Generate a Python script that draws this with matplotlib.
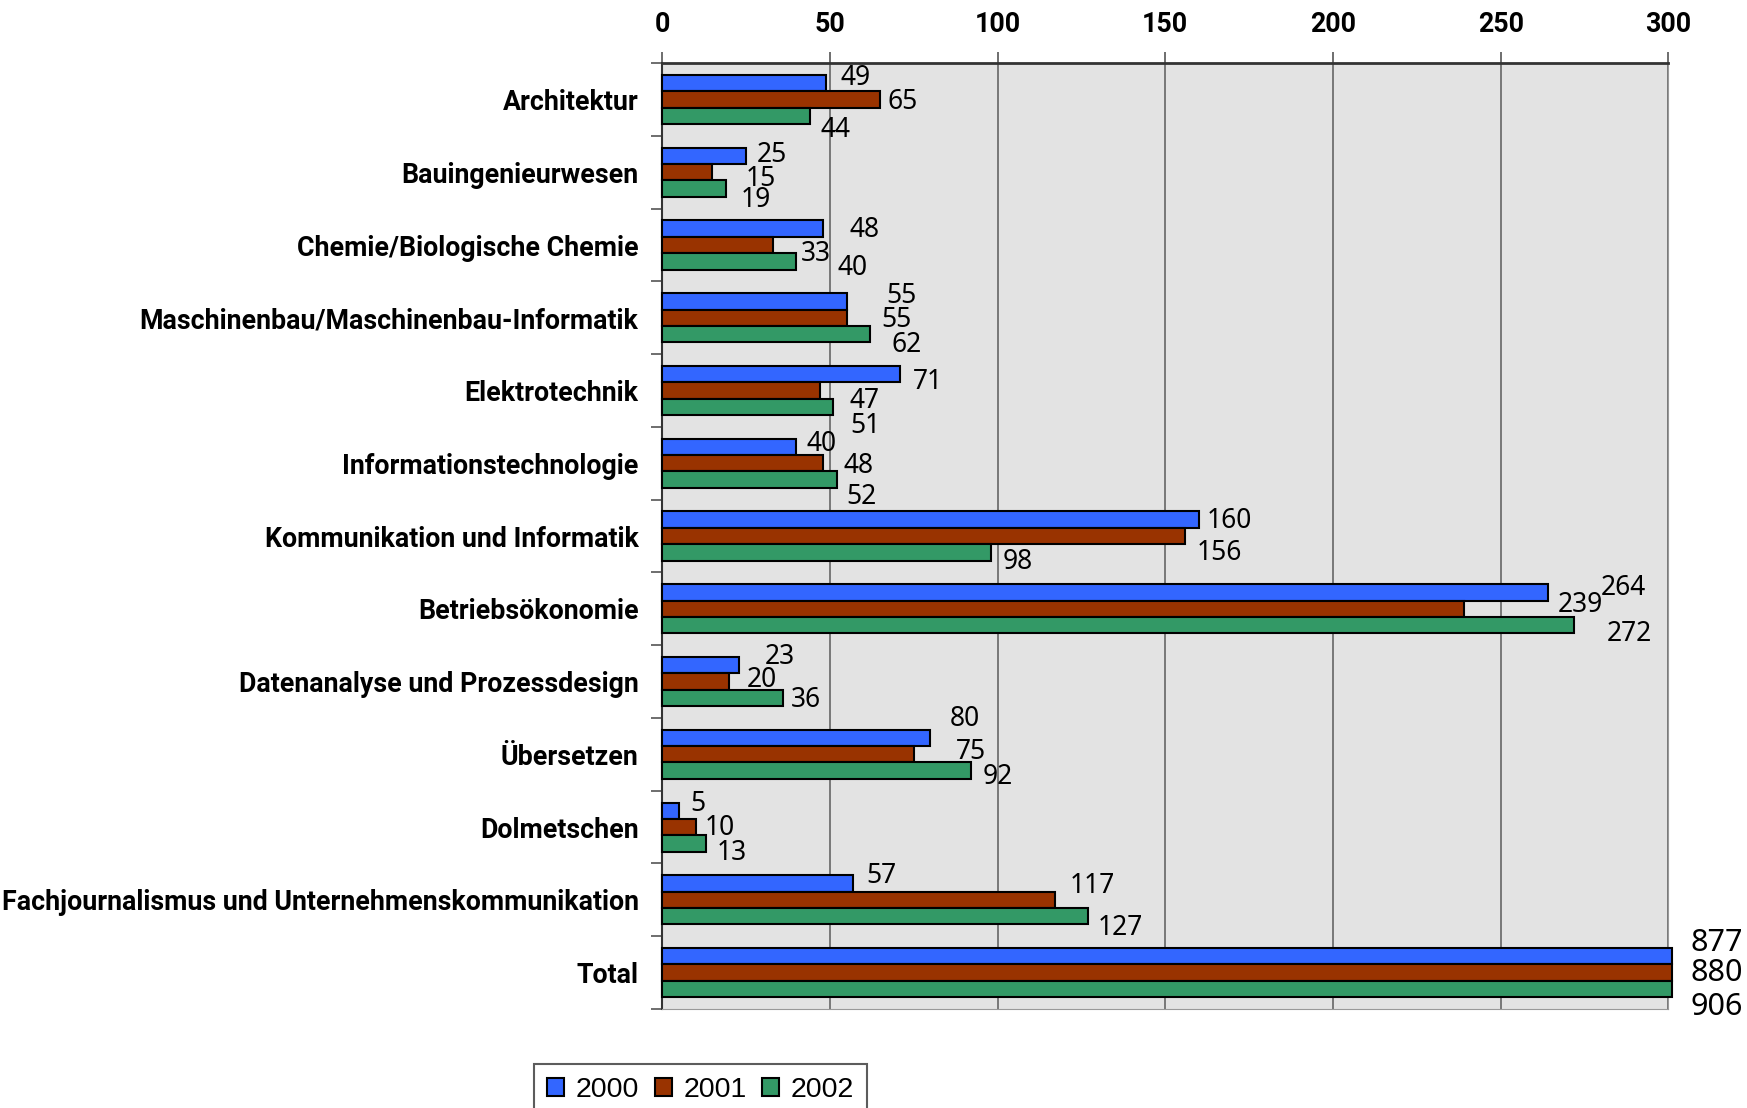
import matplotlib
matplotlib.use("Agg")
import matplotlib.pyplot as plt
import numpy as np
from matplotlib.ticker import FixedLocator
from matplotlib import font_manager

categories = ["Architektur", "Bauingenieurwesen", "Chemie/Biologische Chemie",
              "Maschinenbau/Maschinenbau-Informatik", "Elektrotechnik",
              "Informationstechnologie", "Kommunikation und Informatik",
              "Betriebsökonomie", "Datenanalyse und Prozessdesign", "Übersetzen",
              "Dolmetschen", "Fachjournalismus und Unternehmenskommunikation", "Total"]
years = ["2000", "2001", "2002"]
v2000 = [49, 25, 48, 55, 71, 40, 160, 264, 23, 80, 5, 57, 877]
v2001 = [65, 15, 33, 55, 47, 48, 156, 239, 20, 75, 10, 117, 880]
v2002 = [44, 19, 40, 62, 51, 52, 98, 272, 36, 92, 13, 127, 906]
xticks = [0, 50, 100, 150, 200, 250, 300]

# label placement nudges (in reference pixels) copied from the original layout
lab_dx = [[13, 7, 10], [10, 30, 13], [24, 25, 37], [36, 31, 19], [11, 27, 15],
          [9, 18, 9], [7, 10, 11], [48, 84, 29], [23, 16, 7], [17, 38, 11],
          [10, 8, 10], [12, 14, 9], [20, 20, 20]]
lab_dy = [[-5, 2, 13], [-1, 6, 10], [1, 8, 6], [-5, 2, 10], [7, 9, 17],
          [-3, 2, 16], [1, 15, 9], [-4, -3, 8], [-7, -1, 2], [-17, -2, 6],
          [-6, 1, 9], [-7, -12, 11], [-12, 0, 16]]

colors = ["#3366FF", "#993300", "#339966"]

avail = {f.name for f in font_manager.fontManager.ttflist}
cat = "Roboto" if "Roboto" in avail else "DejaVu Sans"
CAT_FONT = [cat, "DejaVu Sans"]
VAL_FONT = ["Noto Sans", "DejaVu Sans"]

fig = plt.figure(figsize=(17.47, 11.08), dpi=100)
ax = fig.add_axes([0.379, 0.0894, 0.576, 0.8536])
ax.set_facecolor("#E3E3E3")

n = len(categories)
y = np.arange(n)
h = 0.225
series = [v2000, v2001, v2002]
XMAX = 300
PX = 0.802  # reference pixel -> points
for k, vals in enumerate(series):
    yy = y + (k - 1) * h
    ax.barh(yy, [min(v, XMAX + 1) for v in vals], height=h, color=colors[k],
            edgecolor="black", linewidth=1.5, zorder=3, clip_on=False, label=years[k])
    for i, v in enumerate(vals):
        xa = min(v, XMAX)
        fs = 22 if v > XMAX else 19
        ax.annotate(str(v), (xa, yy[i]),
                    xytext=(lab_dx[i][k] * PX, -lab_dy[i][k] * PX),
                    textcoords="offset points", va="center", ha="left",
                    fontsize=fs, family=VAL_FONT, annotation_clip=False, zorder=5)

ax.set_xlim(0, XMAX)
ax.set_ylim(n - 0.5, -0.5)
ax.xaxis.tick_top()
ax.set_xticks(xticks)
ax.grid(axis="x", color="#666666", linewidth=1.2, zorder=1)
ax.set_yticks(y)

# fit category label size so the longest label matches the original width (~638 px)
probe = fig.text(0, 0, categories[11], fontsize=19, fontweight="bold", family=CAT_FONT)
fig.canvas.draw()
w = probe.get_window_extent().width
probe.remove()
cat_fs = min(19.5, 19 * 636.0 / w)

ax.set_xticklabels([str(t) for t in xticks], fontsize=cat_fs, fontweight="bold", family=CAT_FONT)
ax.tick_params(axis="x", which="major", length=8, width=1.2, color="#555555", pad=10)
ax.set_yticklabels(categories, fontsize=cat_fs, fontweight="bold", family=CAT_FONT)
ax.tick_params(axis="y", which="major", length=0, pad=17)
ax.yaxis.set_minor_locator(FixedLocator(np.arange(-0.5, n, 1.0)))
ax.tick_params(axis="y", which="minor", length=8, width=1.2, color="#555555")

ax.spines["top"].set_color("#333333")
ax.spines["top"].set_linewidth(2)
ax.spines["left"].set_color("#333333")
ax.spines["left"].set_linewidth(1.5)
ax.spines["right"].set_color("#999999")
ax.spines["bottom"].set_color("#999999")

leg = fig.legend(loc="upper center", bbox_to_anchor=(0.401, 0.0397), ncol=3,
                 frameon=True, fancybox=False, edgecolor="#333333",
                 prop={"size": 20.5, "family": ["Liberation Sans", "DejaVu Sans"]},
                 handlelength=0.6, handleheight=0.6, handletextpad=0.4,
                 columnspacing=0.55, borderpad=0.45, borderaxespad=0)
leg.get_frame().set_linewidth(1.5)
for p in leg.get_patches():
    p.set_linewidth(1.5)

fig.savefig("out.png", dpi=100)
